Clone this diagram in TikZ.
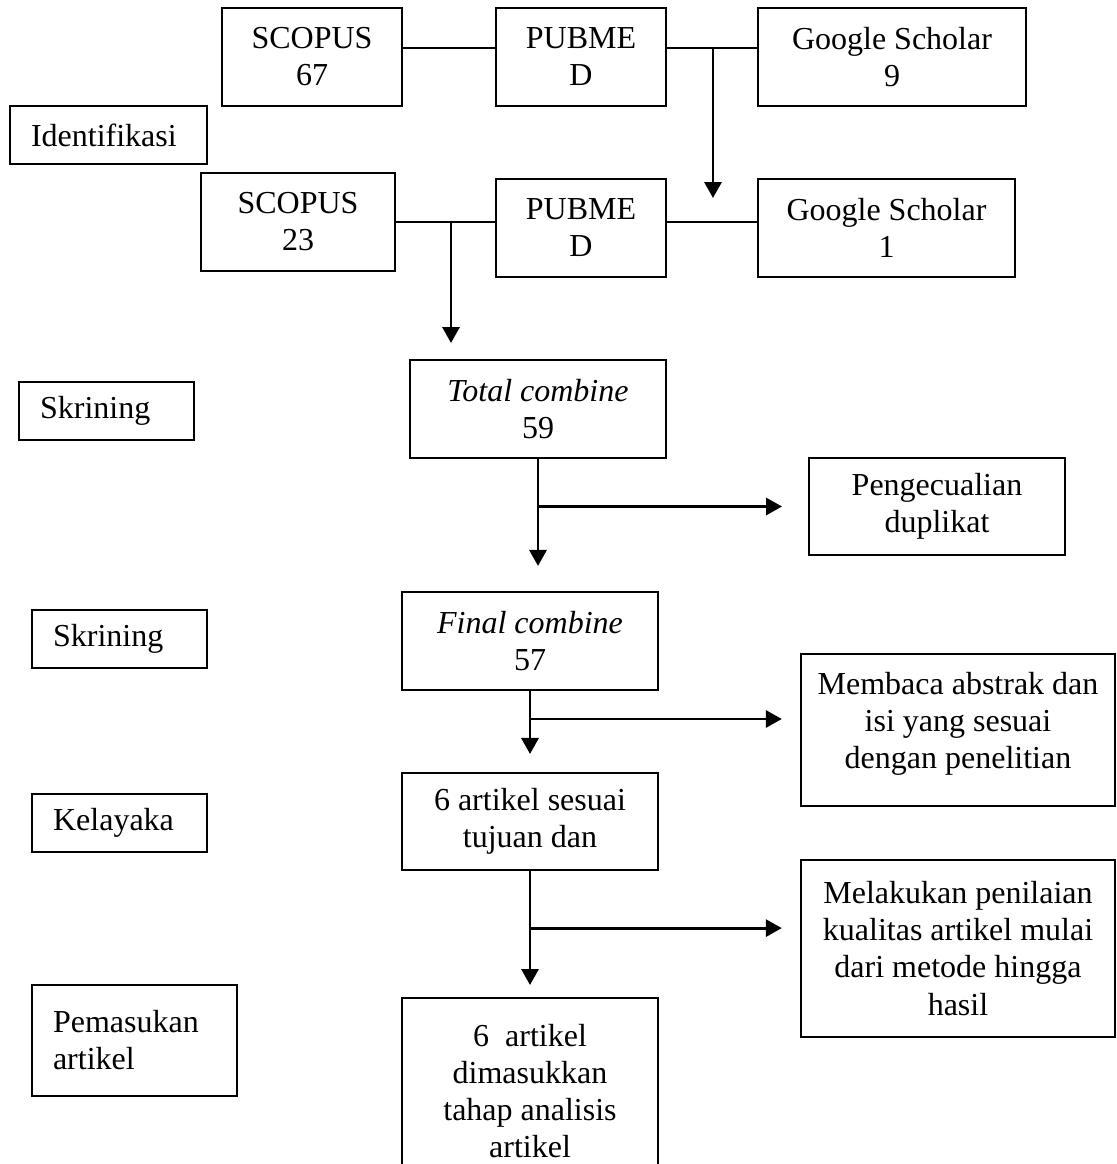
\documentclass[tikz,border=0pt]{standalone}
\usepackage{fontspec}
\setmainfont{Liberation Serif}
\usetikzlibrary{arrows.meta, positioning, calc}

\tikzset{
  every node/.style={font=\fontsize{12}{13.9}\selectfont},
  box/.style={
    draw=black, line width=0.75pt, align=center,
    inner sep=2pt, minimum height=36.75pt
  },
  stage/.style={
    draw=black, line width=0.75pt, align=left,
    inner xsep=7.9pt, inner ysep=2pt, minimum height=21.75pt
  },
  link/.style={line width=0.9pt},
  arr/.style={-{Triangle[length=6pt,width=6.4pt]}, line width=1.1pt},
}

\begin{document}
\begin{tikzpicture}[x=0.375pt, y=-0.375pt]
    \path[use as bounding box, fill=white] (0,0) rectangle (1117,1164);

    % Identification
    \node[box, minimum width=67.5pt] (scopusA) at (312,57) {SCOPUS\\67};
    \node[box, minimum width=63.75pt] (pubmedA) at (581,57) {PUBME\\D};
    \node[box, minimum width=100.5pt] (scholarA) at (892,57) {Google Scholar\\9};

    \node[stage, text width=58.1pt] (identifikasi) at (108.5,135) {Identifikasi};

    \node[box, minimum width=72.75pt] (scopusB) at (298,222) {SCOPUS\\23};
    \node[box, minimum width=63.75pt] (pubmedB) at (581,228) {PUBME\\D};
    \node[box, minimum width=96.4pt] (scholarB) at (886.5,228) {Google Scholar\\1};

    % Screening
    \node[stage, text width=49.8pt] (skrining1) at (106.5,411) {Skrining};
    \node[box, minimum width=96pt] (total) at (538,409)
      {\textit{Total combine}\\59};
    \node[box, minimum width=96pt, minimum height=36.4pt] (duplikat) at (937,506.5)
      {Pengecualian\\duplikat};

    \node[stage, text width=49.8pt] (skrining2) at (119.5,638.5) {Skrining};
    \node[box, minimum width=95.8pt] (final) at (530,641)
      {\textit{Final combine}\\57};
    \node[box, minimum width=117.6pt, minimum height=57pt, text depth=7pt] (membaca) at (958,730)
      {Membaca abstrak dan\\isi yang sesuai\\dengan penelitian};

    % Eligibility
    \node[stage, text width=49.8pt] (kelayakan) at (119.5,823) {Kelayaka};
    \node[box, minimum width=95.8pt, minimum height=36.4pt] (sesuai) at (530,821.5)
      {6 artikel sesuai\\tujuan dan};
    \node[box, minimum width=117.6pt, minimum height=66.4pt] (melakukan) at (958,948.5)
      {Melakukan penilaian\\kualitas artikel mulai\\dari metode hingga\\hasil};

    % Included
    \node[stage, text width=61.1pt, minimum height=41.6pt] (pemasukan) at (134.5,1040.5)
      {Pemasukan\\artikel};
    \node[box, anchor=north, minimum width=95.8pt, minimum height=70pt] (dimasukkan) at (530,997)
      {6\ \ artikel\\dimasukkan\\tahap analisis\\artikel};

    % Source lines
    \draw[link] ([yshift=3.4pt]scopusA.east) -- ([yshift=3.4pt]pubmedA.west);
    \draw[link] ([yshift=3.4pt]pubmedA.east) -- ([yshift=3.4pt]scholarA.west);
    \draw[link] (scopusB.east) -- (scopusB.east -| pubmedB.west);
    \draw[link] (pubmedB.east |- scopusB.east) -- (scholarB.west |- scopusB.east);

    % Flow arrows
    \coordinate (forkA) at (713,48);
    \coordinate (dropA) at (713,198);
    \draw[arr] (forkA) -- (dropA);

    \coordinate (forkB) at (451,222);
    \coordinate (dropB) at (451,343);
    \draw[arr] (forkB) -- (dropB);

    \draw[arr, shorten >=9.4pt] (total.south) -- (total.south |- final.north);
    \coordinate (forkC) at (total.south |- duplikat.west);
    \draw[arr, shorten >=9.75pt] (forkC) -- (duplikat.west);

    \draw[arr, shorten >=6.75pt] (final.south) -- (final.south |- sesuai.north);
    \coordinate (forkD) at ([yshift=-10.5pt]final.south);
    \draw[arr, shorten >=6.9pt] (forkD) -- (forkD -| membaca.west);

    \draw[arr, shorten >=4.5pt] (sesuai.south) -- (sesuai.south |- dimasukkan.north);
    \coordinate (forkE) at ([yshift=-21.4pt]sesuai.south);
    \draw[arr, shorten >=6.9pt] (forkE) -- (forkE -| melakukan.west);

\end{tikzpicture}
\end{document}
